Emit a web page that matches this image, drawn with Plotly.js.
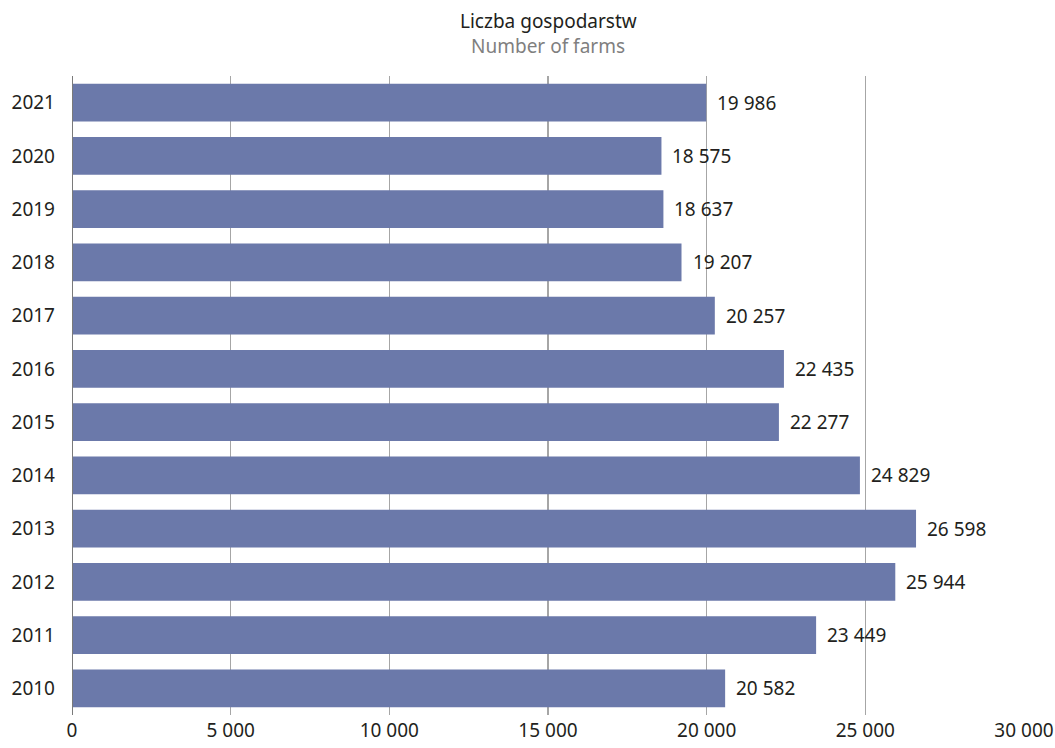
<!DOCTYPE html>
<html><head><meta charset="utf-8">
<script src="https://cdn.plot.ly/plotly-3.0.1.min.js"></script>
<style>body{margin:0;padding:0;background:#fff}#chart{width:1055px;height:748px}</style>
</head><body><div id="chart"></div>
<script>
const years = ['2010','2011','2012','2013','2014','2015','2016','2017','2018','2019','2020','2021'];
const farms = [20582, 23449, 25944, 26598, 24829, 22277, 22435, 20257, 19207, 18637, 18575, 19986];
const titlePl = 'Liczba gospodarstw';
const titleEn = 'Number of farms';
const xTicks = [0, 5000, 10000, 15000, 20000, 25000, 30000];

function fmt(v){ return String(v).replace(/\B(?=(\d{3})+(?!\d))/g, ' '); }

const font = 'Noto Sans, Open Sans, sans-serif';
const textColor = '#231f20';
const fs = 19;

const trace = {
  type: 'bar', orientation: 'h',
  x: farms, y: years,
  marker: {color: '#6b79aa'},
  hoverinfo: 'none'
};

const annotations = years.map((y, i) => ({
  x: farms[i], y: i, xref: 'x', yref: 'y',
  text: fmt(farms[i]), showarrow: false,
  xanchor: 'left', xshift: 9,
  font: {family: font, size: fs, color: textColor}
}));
annotations.push({xref:'paper', yref:'paper', x:0.5, y:1, yanchor:'bottom', yshift:40, showarrow:false,
  text: titlePl, font:{family:font, size:fs, color:textColor}});
annotations.push({xref:'paper', yref:'paper', x:0.5, y:1, yanchor:'bottom', yshift:15, showarrow:false,
  text: titleEn, font:{family:font, size:fs, color:'#7f7f7f'}});

const layout = {
  width: 1055, height: 748,
  margin: {l:72, r:31, t:76, b:33, pad:0},
  paper_bgcolor: '#fff', plot_bgcolor: '#fff',
  showlegend: false,
  bargap: 0.29,
  font: {family: font, size: fs, color: textColor},
  xaxis: {
    range: [0, 30000], tickvals: xTicks, ticktext: xTicks.map(fmt),
    showgrid: true, gridcolor: '#a6a6a6', gridwidth: 1.3,
    zeroline: false, showline: false, ticks: '', ticklabelstandoff: 2,
    tickfont: {family: font, size: fs, color: textColor}, fixedrange: true
  },
  yaxis: {
    type: 'category', categoryorder: 'array', categoryarray: years,
    range: [-0.5, 11.5],
    showgrid: false, zeroline: false, showline: false, ticks: '',
    ticklabelstandoff: 16,
    tickfont: {family: font, size: fs, color: textColor}, fixedrange: true
  },
  shapes: [{type:'line', xref:'x', yref:'paper', x0:0, x1:0, y0:0, y1:1, line:{color:'#7a7a7a', width:2}, layer:'above'}],
  annotations: annotations
};

Plotly.newPlot('chart', [trace], layout, {displayModeBar:false, staticPlot:true});
</script></body></html>
